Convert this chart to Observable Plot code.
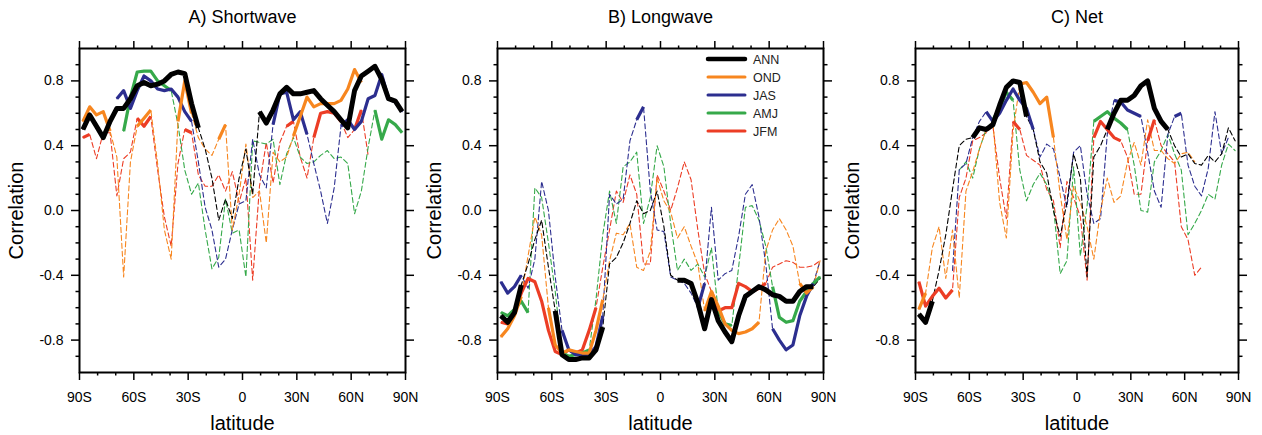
<!DOCTYPE html>
<html><head><meta charset="utf-8">
<script src="https://cdn.jsdelivr.net/npm/d3@7"></script>
<script src="https://cdn.jsdelivr.net/npm/@observablehq/plot@0.6"></script>
<style>
body{margin:0;background:#fff;font-family:"Liberation Sans",Arial,Helvetica,sans-serif;position:relative;width:1262px;height:435px;overflow:hidden;}
#row{display:flex;width:1262px;height:435px;}
#row svg{display:block;overflow:visible;}
#legend{position:absolute;left:700px;top:49px;}
</style></head><body><div id="row"></div><div id="legend"></div>
<script>
const latitudes = [-88.125,-84.375,-80.625,-76.875,-73.125,-69.375,-65.625,-61.875,-58.125,-54.375,-50.625,-46.875,-43.125,-39.375,-35.625,-31.875,-28.125,-24.375,-20.625,-16.875,-13.125,-9.375,-5.625,-1.875,1.875,5.625,9.375,13.125,16.875,20.625,24.375,28.125,31.875,35.625,39.375,43.125,46.875,50.625,54.375,58.125,61.875,65.625,69.375,73.125,76.875,80.625,84.375,88.125];
const seasons = ["ANN","OND","JAS","AMJ","JFM"];
const seasonColors = ["#000000","#f7861f","#2c2e8f","#36a94a","#ec3d25"];
const panelTitles = ["A) Shortwave","B) Longwave","C) Net"];
const xTickValues = [-90,-60,-30,0,30,60,90];
const xTickLabels = ["90S","60S","30S","0","30N","60N","90N"];
const xMinorTicks = [-80,-70,-50,-40,-20,-10,10,20,40,50,70,80];
const yTickValues = [-0.8,-0.4,0,0.4,0.8];
const yTickLabels = ["-0.8","-0.4","0.0","0.4","0.8"];
const yMinorTicks = [-0.9,-0.7,-0.6,-0.5,-0.3,-0.2,-0.1,0.1,0.2,0.3,0.5,0.6,0.7,0.9];

// Shortwave
const swANN = [0.50,0.59,0.52,0.45,0.55,0.63,0.63,0.69,0.77,0.79,0.77,0.78,0.80,0.84,0.855,0.845,0.66,0.51,0.38,0.20,-0.06,0.07,-0.05,0.20,0.38,0.10,0.61,0.54,0.62,0.72,0.76,0.72,0.72,0.73,0.74,0.69,0.65,0.61,0.56,0.51,0.74,0.83,0.86,0.89,0.81,0.69,0.675,0.61];
const swANNsig = [[0,17],[26,47]];
const swOND = [0.55,0.64,0.59,0.61,0.49,0.33,-0.41,0.30,0.52,0.57,0.62,0.29,-0.12,-0.30,0.55,0.80,0.60,0.45,0.38,0.34,0.44,0.53,-0.12,0.10,0.41,0.08,0.12,-0.20,0.36,0.30,0.33,0.46,0.58,0.70,0.64,0.66,0.66,0.66,0.68,0.75,0.87,0.79,null,null,null,null,null,null];
const swONDsig = [[0,4],[8,10],[14,16],[20,21],[31,41]];
const swJAS = [null,null,null,null,null,0.69,0.74,0.63,0.74,0.83,0.80,0.75,0.74,0.75,0.70,0.61,0.55,0.30,0.02,-0.12,-0.35,-0.30,-0.12,0.04,0.06,0.44,0.22,0.14,0.53,0.72,0.73,0.56,0.61,0.47,0.29,0.12,-0.08,0.14,0.52,0.56,0.50,0.55,0.69,0.71,0.84,0.69,0.67,0.61];
const swJASsig = [[5,16],[28,33],[38,47]];
const swAMJ = [null,null,null,null,null,null,0.49,0.70,0.855,0.86,0.86,0.80,0.77,0.74,0.53,0.25,0.10,0.17,-0.12,-0.36,-0.29,0.07,-0.14,-0.12,-0.41,0.43,0.42,0.41,0.44,0.16,0.35,0.45,0.33,0.29,0.30,0.34,0.37,0.32,0.33,0.29,-0.02,0.12,0.39,0.62,0.44,0.56,0.53,0.48];
const swAMJsig = [[6,13],[43,47]];
const swJFM = [0.45,0.47,0.32,0.48,0.48,0.09,0.32,0.36,0.57,0.52,0.58,0.25,-0.04,-0.22,0.29,0.50,0.48,0.22,0.15,0.15,0.22,0.12,0.24,0.05,0.20,-0.43,0.15,0.42,0.17,0.42,0.52,0.55,0.33,0.20,0.45,0.60,0.61,0.60,0.55,0.45,0.50,0.62,0.34,null,null,null,null,null];
const swJFMsig = [[0,1],[8,10],[15,16],[30,31],[34,38],[40,41]];

// Longwave
const lwANN = [-0.65,-0.69,-0.63,-0.46,-0.33,-0.18,-0.06,-0.35,-0.62,-0.89,-0.92,-0.92,-0.91,-0.91,-0.86,-0.72,-0.33,-0.29,-0.20,-0.08,0.06,-0.02,0.00,0.12,-0.10,-0.40,-0.43,-0.43,-0.45,-0.57,-0.73,-0.55,-0.68,-0.75,-0.81,-0.65,-0.53,-0.50,-0.47,-0.49,-0.52,-0.53,-0.56,-0.56,-0.50,-0.47,-0.47,-0.42];
const lwANNsig = [[0,3],[8,15],[26,46]];
const lwOND = [-0.78,-0.73,-0.65,-0.53,-0.28,-0.04,-0.15,-0.60,-0.83,-0.88,-0.86,-0.87,-0.88,-0.88,-0.74,-0.55,-0.31,-0.14,-0.15,-0.08,-0.35,-0.37,-0.25,0.20,0.06,-0.01,-0.17,-0.10,-0.22,-0.33,-0.62,-0.50,-0.59,-0.70,-0.74,-0.76,-0.75,-0.73,-0.69,-0.25,-0.12,-0.05,-0.12,-0.22,-0.45,-0.51,-0.47,-0.31];
const lwONDsig = [[0,3],[7,15],[30,38],[44,46]];
const lwJAS = [-0.44,-0.51,-0.47,-0.40,-0.48,-0.30,0.18,0.00,-0.41,-0.74,-0.86,-0.89,-0.89,-0.89,-0.84,-0.65,0.10,0.04,0.07,0.43,0.56,0.64,0.12,-0.12,-0.13,-0.41,-0.43,-0.45,-0.51,-0.60,-0.45,0.02,-0.43,-0.39,-0.37,-0.16,0.10,0.16,-0.04,-0.33,-0.73,-0.80,-0.86,-0.83,-0.65,-0.53,-0.45,-0.31];
const lwJASsig = [[0,3],[9,15],[20,21],[29,30],[40,46]];
const lwAMJ = [-0.63,-0.65,-0.61,-0.56,-0.63,0.14,0.08,-0.20,-0.50,-0.88,-0.90,-0.89,-0.88,-0.86,-0.55,-0.15,0.12,-0.08,0.27,0.30,0.36,-0.08,0.08,0.40,0.27,-0.08,-0.37,-0.30,-0.37,-0.33,-0.41,-0.23,-0.62,-0.70,-0.71,-0.35,0.02,0.03,-0.06,-0.22,-0.47,-0.66,-0.69,-0.68,-0.56,-0.50,-0.45,-0.41];
const lwAMJsig = [[0,4],[9,13],[32,34],[40,47]];
const lwJFM = [-0.69,-0.70,-0.64,-0.51,-0.42,-0.44,-0.56,-0.74,-0.87,-0.89,-0.86,-0.88,-0.86,-0.74,-0.60,-0.35,-0.12,0.12,0.05,0.22,0.10,-0.33,-0.33,0.22,0.12,0.00,0.14,0.30,0.19,-0.12,-0.39,-0.50,-0.62,-0.60,-0.60,-0.45,-0.47,-0.50,-0.48,-0.45,-0.35,-0.33,-0.31,-0.32,-0.35,-0.35,-0.34,-0.31];
const lwJFMsig = [[0,14],[31,39]];

// Net
const netANN = [-0.64,-0.69,-0.56,-0.37,-0.15,0.13,0.40,0.44,0.45,0.51,0.50,0.53,0.65,0.76,0.80,0.79,0.58,0.50,0.30,0.23,0.00,-0.16,0.05,0.35,0.20,-0.41,0.33,0.40,0.50,0.60,0.68,0.68,0.71,0.77,0.80,0.63,0.55,0.50,0.40,0.33,0.35,0.29,0.28,0.34,0.30,0.35,0.51,0.43];
const netANNsig = [[0,2],[8,16],[28,37]];
const netOND = [-0.61,-0.51,-0.23,-0.10,-0.42,-0.12,-0.54,0.12,0.24,0.38,0.50,0.55,0.05,-0.17,0.49,0.78,0.79,0.73,0.66,0.70,0.45,0.10,-0.18,0.15,0.05,-0.10,-0.30,0.00,0.20,0.05,0.09,0.30,0.42,0.28,0.56,0.37,0.37,0.32,0.29,0.35,0.36,0.30,null,null,null,null,null,null];
const netONDsig = [[0,1],[15,20]];
const netJAS = [null,null,null,null,null,-0.37,0.25,0.29,0.45,0.55,0.61,0.55,0.60,0.68,0.75,0.68,0.63,0.50,0.33,0.41,0.38,0.20,0.02,0.36,0.40,0.10,-0.08,-0.05,0.47,0.68,0.67,0.62,0.60,0.58,0.36,0.12,0.02,0.47,0.58,0.60,0.28,0.15,0.09,0.26,0.61,0.35,0.45,null];
const netJASsig = [[10,17],[29,33],[38,39]];
const netAMJ = [null,null,null,null,null,null,0.25,0.30,0.20,0.38,0.50,0.56,0.63,0.73,0.68,0.25,0.06,0.16,0.23,0.16,0.02,-0.39,-0.31,0.27,-0.28,0.03,0.55,0.58,0.61,0.57,0.54,0.50,0.28,0.00,-0.01,0.30,0.37,0.47,0.35,0.25,-0.15,-0.08,0.00,0.10,0.07,0.28,0.41,0.37];
const netAMJsig = [[11,14],[26,31]];
const netJFM = [-0.44,-0.59,-0.53,-0.48,-0.54,-0.49,0.08,0.20,0.43,0.45,0.48,0.52,0.20,-0.05,0.55,0.50,0.34,0.31,0.28,0.13,0.06,-0.23,0.18,0.08,-0.04,-0.43,0.45,0.55,0.50,0.45,0.43,0.33,0.10,0.10,0.43,0.56,0.40,0.35,0.30,-0.10,-0.18,-0.40,-0.35,null,null,null,null,null];
const netJFMsig = [[0,5],[14,15],[26,30],[34,35]];

const panelSeries = [
  {ANN:[swANN,swANNsig],OND:[swOND,swONDsig],JAS:[swJAS,swJASsig],AMJ:[swAMJ,swAMJsig],JFM:[swJFM,swJFMsig]},
  {ANN:[lwANN,lwANNsig],OND:[lwOND,lwONDsig],JAS:[lwJAS,lwJASsig],AMJ:[lwAMJ,lwAMJsig],JFM:[lwJFM,lwJFMsig]},
  {ANN:[netANN,netANNsig],OND:[netOND,netONDsig],JAS:[netJAS,netJASsig],AMJ:[netAMJ,netAMJsig],JFM:[netJFM,netJFMsig]}
];
const layout = [
  {width:420, ml:79, mr:15},
  {width:420, ml:77, mr:17},
  {width:422, ml:75, mr:24}
];

const FONT = "'Liberation Sans', Arial, Helvetica, sans-serif";
const drawOrder = ["JFM","AMJ","JAS","OND","ANN"];

function makePanel(p) {
  const series = panelSeries[p];
  const rows = [];
  for (const s of drawOrder) {
    const [vals, sig] = series[s];
    vals.forEach((v, i) => rows.push({
      lat: latitudes[i], r: v, season: s,
      sig: sig.some(([a, b]) => i >= a && i <= b)
    }));
  }
  const L = layout[p];
  const marks = [
    Plot.line(rows, {x: "lat", y: d => d.r == null ? NaN : d.r, z: "season", stroke: "season",
      strokeWidth: 1.1, strokeDasharray: "5,3"})
  ];
  for (const s of drawOrder) {
    marks.push(Plot.line(rows.filter(d => d.season === s), {
      x: "lat", y: d => (d.sig && d.r != null) ? d.r : NaN,
      stroke: seasonColors[seasons.indexOf(s)],
      strokeWidth: s === "ANN" ? 5 : 3.2, strokeLinejoin: "round", strokeLinecap: "butt"
    }));
  }
  marks.push(
    Plot.axisX({anchor: "bottom", ticks: xTickValues, tickFormat: d => xTickLabels[xTickValues.indexOf(d)],
      tickSize: 8, tickPadding: 12, strokeWidth: 1.5, fontSize: 14, label: null}),
    Plot.axisX({anchor: "bottom", ticks: xMinorTicks, tickSize: 3.5, strokeWidth: 1.5, fill: "none", label: null}),
    Plot.axisX({anchor: "top", ticks: xTickValues, tickSize: 8, strokeWidth: 1.5, fill: "none", label: null}),
    Plot.axisX({anchor: "top", ticks: xMinorTicks, tickSize: 3.5, strokeWidth: 1.5, fill: "none", label: null}),
    Plot.axisY({anchor: "left", ticks: yTickValues, tickFormat: d => yTickLabels[yTickValues.indexOf(d)],
      tickSize: 8, tickPadding: 8, strokeWidth: 1.5, fontSize: 14, label: null}),
    Plot.axisY({anchor: "left", ticks: yMinorTicks, tickSize: 3.5, strokeWidth: 1.5, fill: "none", label: null}),
    Plot.axisY({anchor: "right", ticks: yTickValues, tickSize: 8, strokeWidth: 1.5, fill: "none", label: null}),
    Plot.axisY({anchor: "right", ticks: yMinorTicks, tickSize: 3.5, strokeWidth: 1.5, fill: "none", label: null}),
    Plot.frame({stroke: "black", strokeWidth: 2}),
    Plot.text([panelTitles[p]], {frameAnchor: "top", dy: -31, lineAnchor: "middle", fontSize: 18, fill: "black"}),
    Plot.text(["latitude"], {frameAnchor: "bottom", dy: 51, lineAnchor: "middle", fontSize: 20, fill: "black"}),
    Plot.text(["Correlation"], {frameAnchor: "left", dx: -63, rotate: -90, textAnchor: "middle", lineAnchor: "middle", fontSize: 20, fill: "black"})
  );
  return Plot.plot({
    width: L.width, height: 435,
    marginLeft: L.ml, marginRight: L.mr, marginTop: 48, marginBottom: 63,
    x: {domain: [-90, 90]},
    y: {domain: [-1, 1]},
    color: {domain: seasons, range: seasonColors},
    style: {fontFamily: FONT, background: "white", color: "black", overflow: "visible"},
    marks
  });
}

const row = document.getElementById("row");
for (let p = 0; p < 3; p++) row.appendChild(makePanel(p));

// legend (in panel B)
const lg = d3.select("#legend").append("svg").attr("width", 100).attr("height", 95)
  .style("font-family", FONT).style("overflow", "visible");
seasons.forEach((s, i) => {
  const g = lg.append("g").attr("transform", `translate(0, ${10 + i * 18})`);
  g.append("line").attr("x1", 8).attr("x2", 45).attr("y1", 0).attr("y2", 0)
    .attr("stroke", seasonColors[i]).attr("stroke-width", s === "ANN" ? 4.5 : 3)
    .attr("stroke-linecap", "round");
  g.append("text").attr("x", 53).attr("y", 0).attr("dy", "0.36em")
    .attr("font-size", 12.5).attr("fill", "#222").text(s);
});
</script>
</body></html>
